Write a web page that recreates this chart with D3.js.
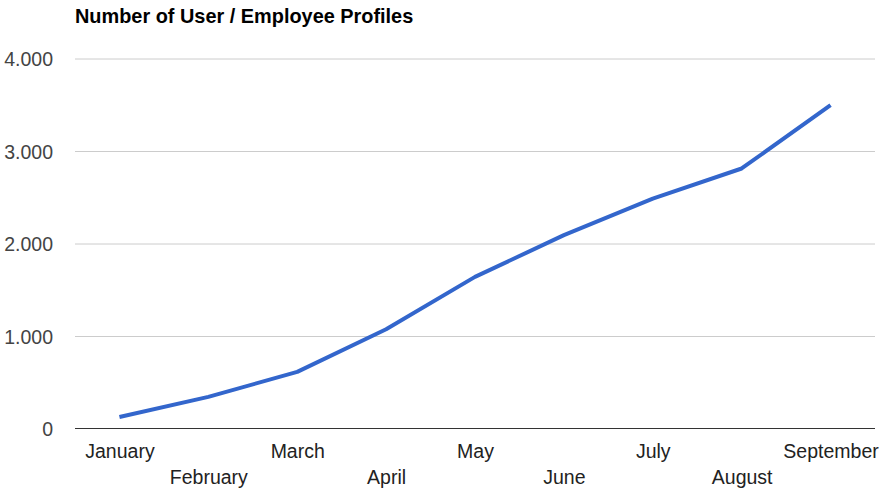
<!DOCTYPE html>
<html>
<head>
<meta charset="utf-8">
<script src="https://cdn.jsdelivr.net/npm/d3@7"></script>
<style>
  body { margin: 0; background: #fff; }
</style>
</head>
<body>
<script>
// Data
const months = ["January", "February", "March", "April", "May", "June", "July", "August", "September"];
const profiles = [125, 342, 612, 1073, 1639, 2090, 2486, 2811, 3495];
const yTicks = [0, 1000, 2000, 3000, 4000];

const width = 889;
const height = 500;
const margin = { top: 58.5, right: 14, bottom: 71.5, left: 75 };

const svg = d3.select("body").append("svg")
  .attr("width", width)
  .attr("height", height)
  .style("font-family", "Arial, 'Liberation Sans', sans-serif");

// Scales
const x = d3.scalePoint()
  .domain(months)
  .range([margin.left, width - margin.right])
  .padding(0.5);

const y = d3.scaleLinear()
  .domain([0, 4000])
  .range([height - margin.bottom, margin.top]);

const fmt = d => d3.format(",")(d).replace(/,/g, ".");

// Title
svg.append("text")
  .attr("x", 75)
  .attr("y", 23)
  .attr("font-size", "19.9px")
  .attr("font-weight", "bold")
  .attr("fill", "#000")
  .text("Number of User / Employee Profiles");

// Gridlines + y labels
const yAxis = svg.append("g")
  .attr("transform", `translate(${margin.left},0)`)
  .call(d3.axisLeft(y)
    .tickValues(yTicks)
    .tickSize(-(width - margin.left - margin.right))
    .tickPadding(22)
    .tickFormat(fmt));

yAxis.select(".domain").remove();
yAxis.selectAll(".tick line")
  .attr("stroke", d => d === 0 ? "none" : "#cccccc");
yAxis.selectAll(".tick text")
  .attr("font-size", "19.5px")
  .attr("fill", "#444")
  .attr("dy", "0.36em");

// x axis labels, staggered over two rows
const xAxis = svg.append("g")
  .attr("transform", `translate(0,${y(0)})`)
  .call(d3.axisBottom(x).tickSize(0).tickPadding(0));

xAxis.select(".domain")
  .attr("d", `M${margin.left},0H${width - margin.right}`)
  .attr("stroke", "#333")
  .attr("stroke-width", 1.2);
xAxis.selectAll(".tick text")
  .attr("font-size", "19.5px")
  .attr("fill", "#222")
  .attr("dy", null)
  .attr("y", (d, i) => i % 2 === 0 ? 29.5 : 55.5);

// Line
const line = d3.line()
  .x((d, i) => x(months[i]))
  .y(d => y(d));

svg.append("path")
  .datum(profiles)
  .attr("fill", "none")
  .attr("stroke", "#3366cc")
  .attr("stroke-width", 4)
  .attr("stroke-linejoin", "round")
  .attr("d", line);
</script>
</body>
</html>
